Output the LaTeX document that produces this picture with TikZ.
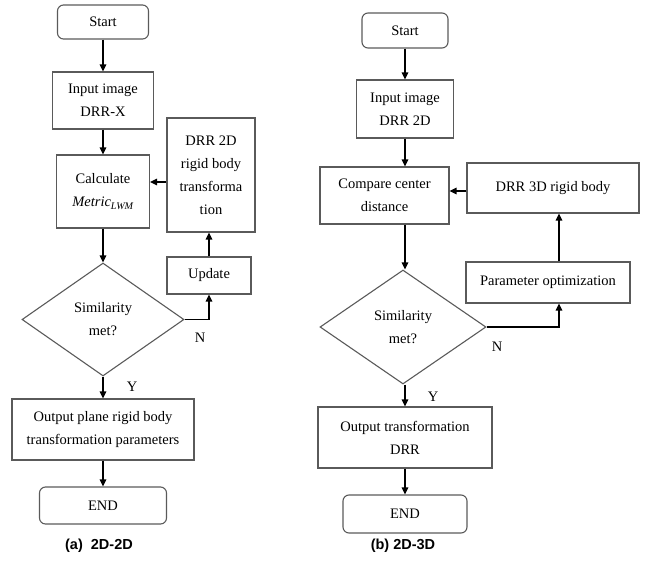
\documentclass[tikz,border=0pt]{standalone}
\usepackage{fontspec}
\setmainfont{Liberation Serif}
\newfontfamily\capfont{Liberation Sans}
\usetikzlibrary{shapes.geometric,arrows.meta,calc}
\definecolor{boxgray}{HTML}{5A5A5A}
\tikzset{
  box/.style={draw=boxgray,line width=1.1pt,rectangle,inner sep=0pt,align=center,
    font=\fontsize{14.5}{23}\selectfont},
  term/.style={box,rounded corners=6pt},
  decision/.style={draw=boxgray,line width=1.1pt,diamond,inner sep=0pt,align=center,
    font=\fontsize{14.5}{23}\selectfont},
  arr/.style={draw=black,line width=1.3pt,-{Triangle[length=7pt,width=6.5pt]}},
  lbl/.style={font=\fontsize{14.5}{17}\selectfont,inner sep=0pt},
  captext/.style={font=\capfont\bfseries\fontsize{14.5}{17}\selectfont,inner sep=0pt}
}
\begin{document}
\begin{tikzpicture}[x=1pt,y=-1pt]
\useasboundingbox (0,0) rectangle (645,562);
% ---------- (a) 2D-2D ----------
\node[term,minimum width=91pt,minimum height=34pt] (s1) at (103,22) {Start};
\node[box,minimum width=101pt,minimum height=57pt] (in1) at (103,100.5) {Input image\\DRR-X};
\node[box,minimum width=93pt,minimum height=73pt] (calc) at (103,191.5) {Calculate\\{\itshape Metric}\textsubscript{\itshape LWM}};
\node[box,minimum width=88pt,minimum height=114pt] (drr2) at (211,175) {DRR 2D\\rigid body\\transforma\\tion};
\node[box,minimum width=84pt,minimum height=37pt] (upd) at (209,275.5) {Update};
\node[decision,minimum width=162pt,minimum height=113pt] (dia1) at (103,319.5) {Similarity\\met?};
\node[box,minimum width=182pt,minimum height=61pt] (out1) at (103,429.5) {Output plane rigid body\\transformation parameters};
\node[term,minimum width=127pt,minimum height=37pt] (e1) at (103,505.5) {END};
\node[lbl] (n1) at (200,338) {N};
\node[lbl] (y1) at (132,387) {Y};
\node[captext] (c1) at (99,546) {(a)\ \ 2D-2D};
\draw[arr] (s1) -- (in1);
\draw[arr] (in1) -- (calc);
\draw[arr] (calc) -- (dia1);
\draw[arr] (dia1) -- (out1);
\draw[arr] (out1) -- (e1);
\draw[arr] (drr2.west |- 0,182) -- (calc.east |- 0,182);
\draw[arr] (dia1.east) -| (upd.south);
\draw[arr] (upd.north) -- (upd.north |- drr2.south);
% ---------- (b) 2D-3D ----------
\node[term,minimum width=86pt,minimum height=35pt] (s2) at (405,30.5) {Start};
\node[box,minimum width=97pt,minimum height=58pt] (in2) at (405,109) {Input image\\DRR 2D};
\node[box,minimum width=129pt,minimum height=57pt] (cmp) at (384.5,195.5) {Compare center\\distance};
\node[box,minimum width=172pt,minimum height=50pt] (drr3) at (553,188) {DRR 3D rigid body};
\node[box,minimum width=164pt,minimum height=41pt] (par) at (548,282.5) {Parameter optimization};
\node[decision,minimum width=166pt,minimum height=114pt] (dia2) at (403,327) {Similarity\\met?};
\node[box,minimum width=174pt,minimum height=61pt] (out2) at (405,437.5) {Output transformation\\DRR};
\node[term,minimum width=124pt,minimum height=38pt] (e2) at (405,514) {END};
\node[lbl] (n2) at (497,347) {N};
\node[lbl] (y2) at (433,397) {Y};
\node[captext] (c2) at (403,546) {(b) 2D-3D};
\draw[arr] (s2) -- (in2);
\draw[arr] (in2.south) -- (in2.south |- cmp.north);
\draw[arr] (in2.south |- cmp.south) -- (in2.south |- dia2.north);
\draw[arr] (in2.south |- dia2.south) -- (out2.north);
\draw[arr] (out2) -- (e2);
\draw[arr] (drr3.west |- 0,191) -- (cmp.east |- 0,191);
\draw[arr] (dia2.east) -| ([xshift=11pt]par.south);
\draw[arr] ([xshift=11pt]par.north) -- ([xshift=11pt]par.north |- drr3.south);
\end{tikzpicture}
\end{document}
